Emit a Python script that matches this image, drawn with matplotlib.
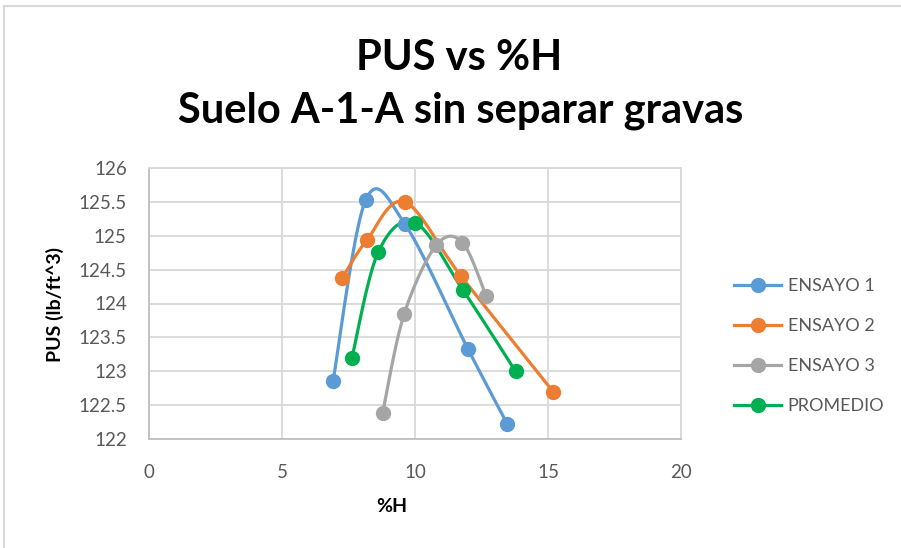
import numpy as np
import matplotlib
matplotlib.use('Agg')
import matplotlib.pyplot as plt
from matplotlib.lines import Line2D

# datos
h_e1 = [6.92, 8.15, 9.61, 11.99, 13.47]
pus_e1 = [122.86, 125.53, 125.18, 123.33, 122.22]

h_e2 = [7.27, 8.18, 9.61, 11.74, 15.19]
pus_e2 = [124.38, 124.93, 125.50, 124.40, 122.70]

h_e3 = [8.78, 9.59, 10.80, 11.78, 12.68]
pus_e3 = [122.38, 123.84, 124.86, 124.90, 124.11]

h_prom = [7.63, 8.62, 10.01, 11.80, 13.78]
pus_prom = [123.20, 124.76, 125.19, 124.20, 123.00]

series = ['ENSAYO 1', 'ENSAYO 2', 'ENSAYO 3', 'PROMEDIO']
colores = ['#5B9BD5', '#ED7D31', '#A5A5A5', '#00B050']

x_ticks = [0, 5, 10, 15, 20]
y_ticks = [122, 122.5, 123, 123.5, 124, 124.5, 125, 125.5, 126]


def suavizar(x, y, n=30):
    # curva tipo excel (catmull-rom con bezier)
    p = np.column_stack([x, y])
    p = np.vstack([p[0], p, p[-1]])
    out = []
    for i in range(1, len(p) - 2):
        p0, p1, p2, p3 = p[i - 1], p[i], p[i + 1], p[i + 2]
        c1 = p1 + (p2 - p0) / 6
        c2 = p2 - (p3 - p1) / 6
        t = np.linspace(0, 1, n)[:, None]
        seg = (1 - t) ** 3 * p1 + 3 * (1 - t) ** 2 * t * c1 + 3 * (1 - t) * t ** 2 * c2 + t ** 3 * p2
        out.append(seg)
    out = np.vstack(out)
    return out[:, 0], out[:, 1]


plt.rcParams['font.family'] = ['Lato', 'DejaVu Sans']

fig = plt.figure(figsize=(9.01, 5.48), dpi=100)
ax = fig.add_axes([149 / 901, 1 - 439 / 548, (681 - 149) / 901, (439 - 168) / 548])

datos = [(h_e1, pus_e1), (h_e2, pus_e2), (h_e3, pus_e3), (h_prom, pus_prom)]
for (hx, py), nombre, c in zip(datos, series, colores):
    sx, sy = suavizar(hx, py)
    ax.plot(sx, sy, color=c, lw=2.3, solid_capstyle='round', zorder=3)
    ax.plot(hx, py, 'o', color=c, ms=10, zorder=4)

ax.set_xlim(0, 20)
ax.set_ylim(122, 126)
ax.set_xticks(x_ticks)
ax.set_yticks(y_ticks)
ax.set_xticklabels([str(v) for v in x_ticks])
ax.set_yticklabels([('%g' % v) for v in y_ticks])
ax.grid(color='#D9D9D9', lw=1.3)
ax.set_axisbelow(True)
for s in ax.spines.values():
    s.set_color('#D9D9D9')
    s.set_linewidth(1.3)
ax.spines['left'].set_color('#BFBFBF')
ax.spines['bottom'].set_color('#BFBFBF')
ax.tick_params(length=0, labelsize=13.5, colors='#595959')
ax.tick_params(axis='y', pad=16)
ax.tick_params(axis='x', pad=18)

fig.text(392 / 901, 1 - 507 / 548, '%H', ha='center', va='center', fontsize=14, fontweight='bold')
fig.text(55 / 901, 1 - 305 / 548, 'PUS (lb/ft^3)', ha='center', va='center', rotation=90,
         fontsize=14, fontweight='bold')

fig.text(459 / 901, 1 - 58 / 548, 'PUS vs %H', ha='center', va='center', fontsize=30, fontweight='bold')
fig.text(461 / 901, 1 - 111 / 548, 'Suelo A-1-A sin separar gravas', ha='center', va='center',
         fontsize=30, fontweight='bold')

# leyenda
handles = [Line2D([], [], color=c, lw=2.3, marker='o', ms=10) for c in colores]
leg = fig.legend(handles, series, loc='center left', bbox_to_anchor=(718 / 901, 1 - 346 / 548),
                 frameon=False, fontsize=13, handlelength=2.6, labelspacing=1.33, handletextpad=0.35)
for t in leg.get_texts():
    t.set_color('#595959')

# borde del area del grafico
fig.add_artist(Line2D([4 / 901, 4 / 901], [0, 1 - 6 / 548], color='#D9D9D9', lw=1.5))
fig.add_artist(Line2D([4 / 901, 1], [1 - 6 / 548, 1 - 6 / 548], color='#D9D9D9', lw=1.5))

fig.savefig('out.png', dpi=100)
